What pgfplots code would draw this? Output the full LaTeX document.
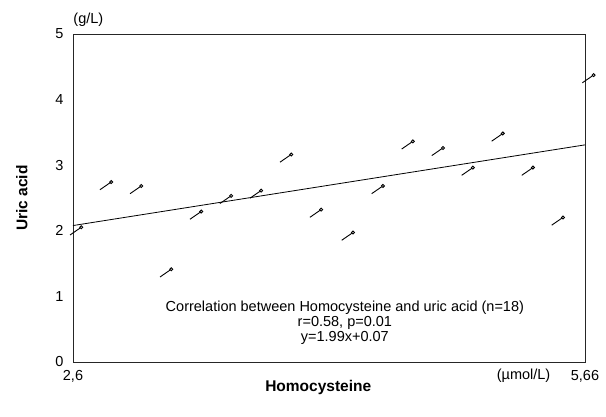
\documentclass[border=0pt]{standalone}
\usepackage{pgfplots}
\pgfplotsset{compat=1.18}
\usepackage{fontspec}
\setmainfont{Liberation Sans}

% slanted dash with a small loop, like the original scatter markers
\pgfdeclareplotmark{slash}{%
  \pgfpathmoveto{\pgfpoint{-6pt}{-4.2pt}}%
  \pgfpathlineto{\pgfpoint{4pt}{2.7pt}}%
  \pgfusepathqstroke
  \pgfpathcircle{\pgfpoint{5.2pt}{3.5pt}}{1.5pt}%
  \pgfusepathqstroke}

\begin{document}
\begin{tikzpicture}
  \useasboundingbox (-73pt,-54pt) rectangle (533pt,362pt);
  \begin{axis}[
    scale only axis,
    width=512pt,
    height=328pt,
    xmin=2.6, xmax=5.66,
    ymin=0, ymax=5,
    xtick={2.6,5.66},
    xticklabels={{2,6},{5,66}},
    ytick={0,1,2,3,4,5},
    major tick length=0pt,
    axis line style={line width=0.9pt, black!85},
    tick label style={font=\fontsize{14.5}{16}\selectfont},
    yticklabel style={xshift=-6pt},
    xticklabel style={yshift=-5pt},
    /pgf/number format/assume math mode=true,
    xlabel={\bfseries Homocysteine},
    xlabel style={font=\fontsize{15.5}{17}\selectfont, at={(axis description cs:0.479,0)}, yshift=-15pt},
    ylabel={\bfseries Uric acid},
    ylabel style={font=\fontsize{15.5}{17}\selectfont, at={(axis description cs:-0.1,0.5)}, anchor=center},
    clip=false,
  ]
    \addplot[black, line width=0.8pt] coordinates {(2.6,2.08) (5.66,3.31)};

    \addplot[only marks, mark=slash, mark options={black, line width=0.9pt}]
      coordinates {
        (2.618,2.00) (2.797,2.69) (2.977,2.63) (3.156,1.36)
        (3.335,2.24) (3.514,2.48) (3.693,2.56) (3.873,3.11)
        (4.052,2.27) (4.242,1.92) (4.421,2.63) (4.600,3.31)
        (4.780,3.21) (4.959,2.91) (5.138,3.43) (5.318,2.91)
        (5.497,2.15) (5.680,4.32)
      };

    \node[font=\fontsize{14.5}{16}\selectfont] at (rel axis cs:0.03,1) [yshift=14pt] {(g/L)};
    \node[font=\fontsize{14.5}{16}\selectfont] at (rel axis cs:0.88,0) [yshift=-14pt] {(µmol/L)};
    \node[font=\fontsize{14.5}{15}\selectfont, align=center] at (rel axis cs:0.531,0) [yshift=39pt]
      {Correlation between Homocysteine and uric acid (n=18)\\
       r=0.58, p=0.01\\
       y=1.99x+0.07};
  \end{axis}
\end{tikzpicture}
\end{document}
